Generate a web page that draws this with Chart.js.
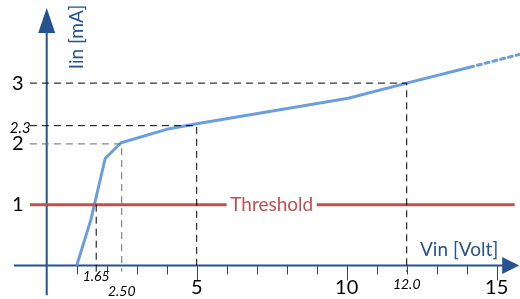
<!DOCTYPE html>
<html>
<head>
<meta charset="utf-8">
<script src="https://cdn.jsdelivr.net/npm/chart.js@4"></script>
<style>
  body { margin: 0; background: #fff; }
  #chart { display: block; }
</style>
</head>
<body>
<canvas id="chart" width="520" height="299"></canvas>
<script>
// measured curve Iin(Vin)
const curveX = [1.0, 1.47, 1.95, 2.48, 4.0, 5.0, 10.05, 12.0, 14.1];
const curveY = [0, 0.75, 1.76, 2.02, 2.24, 2.33, 2.75, 3.0, 3.26];
// dotted extension
const extX = [14.1, 15.75];
const extY = [3.26, 3.47];

const thresholdY = 1;
const thresholdLeft = [-0.56, 6.0];
const thresholdRight = [9.0, 15.6];

const xTicks = [1, 2, 3, 4, 5, 6, 7, 8, 9, 10, 11, 12, 13, 14, 15];
const xLabels = [5, 10, 15];
const yLabels = [1, 2, 3];

// marked points
const markX = [1.65, 2.5, 5, 12];
const markY = [1, 2, 2.3, 3];
const markXText = ['1.65', '2.50', null, '12.0'];

const AXIS = '#24538f';
const FONT = 'Lato, "Open Sans", sans-serif';

const pts = (xs, ys) => xs.map((x, i) => ({ x: x, y: ys[i] }));

function guide(data, color) {
    return {
        data: data, showLine: true, pointRadius: 0,
        borderColor: color, borderWidth: 1, borderDash: [7, 5]
    };
}

const datasets = [
    guide([{ x: -0.56, y: markY[3] }, { x: markX[3], y: markY[3] }, { x: markX[3], y: -0.1 }], '#000'),
    guide([{ x: -0.56, y: markY[2] }, { x: markX[2], y: markY[2] }, { x: markX[2], y: 0 }], '#000'),
    guide([{ x: -0.56, y: markY[1] }, { x: markX[1], y: markY[1] }, { x: markX[1], y: -0.1 }], '#6a6a6a'),
    guide([{ x: markX[0], y: markY[0] }, { x: markX[0], y: -0.12 }], '#000'),
    {
        data: pts(thresholdLeft, [thresholdY, thresholdY]), showLine: true, pointRadius: 0,
        borderColor: '#c0504d', borderWidth: 3
    },
    {
        data: pts(thresholdRight, [thresholdY, thresholdY]), showLine: true, pointRadius: 0,
        borderColor: '#c0504d', borderWidth: 3
    },
    {
        data: pts(curveX, curveY), showLine: true, pointRadius: 0,
        borderColor: '#6c9ede', borderWidth: 3, borderJoinStyle: 'round'
    },
    {
        data: pts(extX, extY), showLine: true, pointRadius: 0,
        borderColor: '#6c9ede', borderWidth: 3, borderDash: [4, 4], borderCapStyle: 'round'
    }
];

const axesPlugin = {
    id: 'axes',
    beforeDatasetsDraw(chart) {
        const ctx = chart.ctx;
        const xs = chart.scales.x, ys = chart.scales.y;
        const x0 = xs.getPixelForValue(0), y0 = ys.getPixelForValue(0);
        ctx.save();
        // ticks
        ctx.strokeStyle = '#404040';
        ctx.lineWidth = 1;
        xTicks.forEach(t => {
            const px = Math.round(xs.getPixelForValue(t)) + 0.5;
            ctx.beginPath();
            ctx.moveTo(px, y0);
            ctx.lineTo(px, y0 + (xLabels.includes(t) ? 15 : 9));
            ctx.stroke();
        });
        // axis lines
        ctx.strokeStyle = AXIS;
        ctx.fillStyle = AXIS;
        ctx.lineWidth = 2;
        ctx.beginPath();
        ctx.moveTo(xs.getPixelForValue(-1.09), y0);
        ctx.lineTo(xs.getPixelForValue(15.2), y0);
        ctx.moveTo(x0, ys.getPixelForValue(-0.49));
        ctx.lineTo(x0, ys.getPixelForValue(3.9));
        ctx.stroke();
        // arrow heads
        const tipX = xs.getPixelForValue(15.75);
        ctx.beginPath();
        ctx.moveTo(tipX, y0);
        ctx.lineTo(tipX - 17, y0 - 8.5);
        ctx.lineTo(tipX - 17, y0 + 8.5);
        ctx.closePath();
        ctx.fill();
        const tipY = ys.getPixelForValue(4.235);
        ctx.beginPath();
        ctx.moveTo(x0, tipY);
        ctx.lineTo(x0 - 8.5, tipY + 25);
        ctx.lineTo(x0 + 8.5, tipY + 25);
        ctx.closePath();
        ctx.fill();
        ctx.restore();
    },
    afterDatasetsDraw(chart) {
        const ctx = chart.ctx;
        const xs = chart.scales.x, ys = chart.scales.y;
        const y0 = ys.getPixelForValue(0);
        ctx.save();
        ctx.textAlign = 'center';
        ctx.textBaseline = 'middle';
        ctx.fillStyle = '#000';
        ctx.font = '20px ' + FONT;
        xLabels.forEach(v => ctx.fillText(String(v), xs.getPixelForValue(v), y0 + 22));
        yLabels.forEach(v => ctx.fillText(String(v), xs.getPixelForValue(-0.96), ys.getPixelForValue(v)));
        ctx.font = 'italic 15px ' + FONT;
        ctx.fillText('2.3', xs.getPixelForValue(-0.88), ys.getPixelForValue(markY[2]) + 2);
        ctx.font = 'italic 14px ' + FONT;
        ctx.fillText(markXText[0], xs.getPixelForValue(markX[0]), y0 + 11);
        ctx.fillText(markXText[1], xs.getPixelForValue(markX[1]), y0 + 26);
        ctx.fillText(markXText[3], xs.getPixelForValue(markX[3]), y0 + 19);
        // threshold text
        ctx.fillStyle = '#c0504d';
        ctx.font = '19px ' + FONT;
        ctx.fillText('Threshold', xs.getPixelForValue(7.5), ys.getPixelForValue(thresholdY));
        // axis titles
        ctx.fillStyle = AXIS;
        ctx.textAlign = 'right';
        ctx.fillText('Vin [Volt]', xs.getPixelForValue(15.05), y0 - 16);
        ctx.translate(xs.getPixelForValue(1.0), ys.getPixelForValue(4.29));
        ctx.rotate(-Math.PI / 2);
        ctx.textAlign = 'right';
        ctx.fillText('Iin [mA]', 0, 0);
        ctx.restore();
    }
};

new Chart(document.getElementById('chart'), {
    type: 'scatter',
    data: { datasets: datasets },
    options: {
        responsive: false,
        animation: false,
        devicePixelRatio: 1,
        layout: { padding: 0 },
        plugins: { legend: { display: false }, tooltip: { enabled: false } },
        scales: {
            x: { type: 'linear', min: -1.557, max: 15.777, display: false },
            y: { type: 'linear', min: -0.551, max: 4.367, display: false }
        }
    },
    plugins: [axesPlugin]
});
</script>
</body>
</html>
